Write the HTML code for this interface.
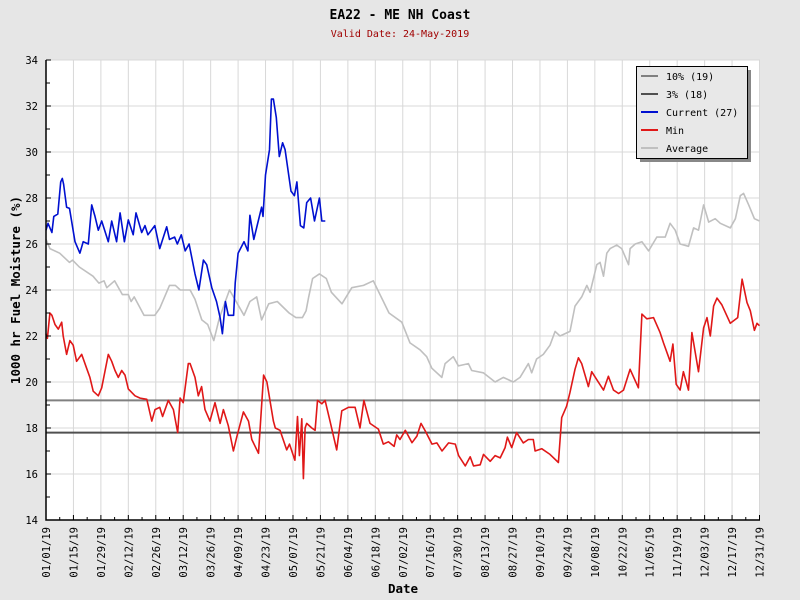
<!DOCTYPE html>
<html><head><meta charset="utf-8"><style>
body{margin:0;background:#e6e6e6;}
svg{display:block;font-family:"DejaVu Sans Mono","Liberation Mono",monospace;}
</style></head><body>
<svg id="chart" width="800" height="600" viewBox="0 0 800 600">
<rect x="0" y="0" width="800" height="600" fill="#e6e6e6"/>
<text x="400" y="19" text-anchor="middle" font-size="13" font-weight="bold" fill="#000">EA22 - ME NH Coast</text>
<text x="400" y="37" text-anchor="middle" font-size="10" fill="#a00000">Valid Date: 24-May-2019</text>
<rect x="46" y="60" width="714" height="460" fill="#fff"/>
<g id="grid"></g>
<g id="series"></g>
<g id="axes"></g>
<text transform="translate(20,290) rotate(-90)" text-anchor="middle" font-size="12.5" font-weight="bold">1000 hr Fuel Moisture (%)</text>
<text x="403" y="593" text-anchor="middle" font-size="12.5" font-weight="bold">Date</text>
<g>
<rect x="640" y="70" width="111" height="92" fill="#888"/>
<rect x="636.5" y="66.5" width="111" height="92" fill="#e8e8e8" stroke="#000"/>
<g id="legend-items"></g>
</g>
</svg>
<script>
const yTicks=[14,16,18,20,22,24,26,28,30,32,34];
const xTickLabels=["01/01/19","01/15/19","01/29/19","02/12/19","02/26/19","03/12/19","03/26/19","04/09/19","04/23/19","05/07/19","05/21/19","06/04/19","06/18/19","07/02/19","07/16/19","07/30/19","08/13/19","08/27/19","09/10/19","09/24/19","10/08/19","10/22/19","11/05/19","11/19/19","12/03/19","12/17/19","12/31/19"];
const pct10=19.2;
const pct3=17.8;
const currentDays=[0,1,3,4,6,7.5,8.3,9,10.5,12,14.8,17.3,19,21.6,23.3,25,26.7,28.4,31.8,33.5,36,37.8,40,42,44.5,45.9,48.8,50.5,52,55.5,58,61.6,63,65.6,67,69,71,73,76,78,80.3,82,84.6,87,88.8,90,91.5,93,95.7,96.5,98,101,103,104,106,110,110.7,112,114,115,116,117.5,119,120.7,122,125,126.7,128,129.8,131.5,133,135,137,139.5,140.7,142.5];
const currentVals=[26.6,26.9,26.5,27.2,27.3,28.7,28.85,28.6,27.6,27.55,26.1,25.6,26.1,26.0,27.7,27.2,26.6,27.0,26.1,27.0,26.1,27.35,26.1,27.05,26.4,27.35,26.5,26.8,26.4,26.8,25.8,26.75,26.2,26.3,26.0,26.4,25.7,26.0,24.7,24.0,25.3,25.1,24.1,23.5,22.8,22.1,23.5,22.9,22.9,24.3,25.6,26.1,25.7,27.25,26.2,27.6,27.2,29.0,30.1,32.3,32.3,31.5,29.8,30.4,30.1,28.3,28.1,28.7,26.8,26.7,27.8,28.0,27.0,28.0,27.0,27.0];
const avgDays=[0,2,7,9.5,12,13.5,17,24,27,29.6,31,35,39,42,43.4,45,50,55.5,58,63,66,68.5,73.5,76,79.5,82.5,85.6,88.5,93.6,97,101,104,107.5,110,113.6,118,124,127.5,130.8,132.7,134,136,139.5,143,145.6,151,156,162,167,175,181.5,185.7,190.8,194.2,196.8,201.9,203.6,207.8,210.4,215.5,217.2,223.1,229.1,233.3,238.4,241.8,246.1,247.8,250.3,253.7,257.1,259.7,262.2,267.3,269.9,273.3,275.9,277.6,281,282.7,284.4,286.1,287.8,291.2,293.7,297.2,298,300.6,304,307.4,311.6,315.9,318.4,321,323.5,327.8,330.4,332.9,335.5,338.1,341.4,344,349.1,351.7,354.2,355.9,358.5,361.4,364];
const avgVals=[26.2,25.8,25.6,25.4,25.2,25.3,25.0,24.6,24.3,24.4,24.1,24.4,23.8,23.8,23.5,23.7,22.9,22.9,23.2,24.2,24.2,24.0,24.0,23.6,22.7,22.5,21.8,22.8,24.0,23.5,22.9,23.5,23.7,22.7,23.4,23.5,23.0,22.8,22.8,23.1,23.7,24.5,24.7,24.5,23.9,23.4,24.1,24.2,24.4,23.0,22.6,21.7,21.4,21.1,20.6,20.2,20.8,21.1,20.7,20.8,20.5,20.4,20.0,20.2,20.0,20.2,20.8,20.4,21.0,21.2,21.6,22.2,22.0,22.2,23.3,23.7,24.2,23.9,25.1,25.2,24.6,25.6,25.8,25.95,25.8,25.1,25.8,26.0,26.1,25.7,26.3,26.3,26.9,26.6,26.0,25.9,26.7,26.6,27.7,26.95,27.1,26.9,26.7,27.1,28.1,28.2,27.7,27.1,27.0];
const minDays=[0,0.7,2,3,4.6,6.3,8,8.8,10.5,12.2,13.9,15.6,18.2,20.7,22.4,24.1,26.7,28.4,31.8,33.5,35.2,36.9,38.6,40.3,42,45.4,48,51.4,54,55.6,58,59.5,62.4,65,67.2,68.4,70,72.6,73.5,76,77.7,79.4,81.1,83.6,86.2,88.8,90.5,93,95.6,97.3,100.7,103.3,105,108.4,111,112.7,116,117,119.4,122.8,124.2,127,128.3,129.3,130.5,131.3,132.2,133,135.6,137.3,138.5,140.7,142.4,144.9,148.3,150.9,154.3,157.7,160.2,162.2,165.3,169.6,172.1,174.7,177.6,178.9,180.6,183.3,186.7,189.2,191.3,193.5,196.9,199.4,202,205.4,208.8,210.5,213.9,216.4,218.1,221.5,223.2,226.6,229.1,231.7,234.2,235.4,237.6,240.1,243.5,246.1,248.6,249.5,252.9,257.1,261.4,263.1,265.6,267.3,269.9,271.6,273.3,276.7,278.4,281,284.4,286.9,289.5,292.1,294.6,298,302.2,304,306.5,309.9,313.3,315,318.4,319.8,321.5,323.5,325.2,327.8,329.5,332.9,335.5,337.2,338.9,340.6,342.3,344.8,349.1,352.9,355.1,357.6,359.3,361.4,362.7,364];
const minVals=[22.1,21.9,23.0,22.9,22.5,22.3,22.6,22.0,21.2,21.8,21.6,20.9,21.2,20.6,20.2,19.6,19.4,19.75,21.2,20.9,20.5,20.2,20.5,20.3,19.7,19.4,19.3,19.25,18.3,18.8,18.9,18.5,19.2,18.8,17.8,19.3,19.1,20.8,20.8,20.2,19.4,19.8,18.8,18.3,19.1,18.2,18.8,18.1,17.0,17.6,18.7,18.3,17.5,16.9,20.3,20.0,18.3,18.0,17.9,17.05,17.3,16.6,18.5,16.8,18.4,15.8,18.0,18.2,18.0,17.9,19.2,19.05,19.2,18.3,17.05,18.75,18.9,18.9,18.0,19.2,18.2,17.95,17.3,17.4,17.2,17.7,17.5,17.9,17.36,17.65,18.2,17.87,17.3,17.35,17.0,17.35,17.3,16.8,16.35,16.75,16.35,16.4,16.85,16.55,16.8,16.7,17.15,17.6,17.15,17.8,17.35,17.5,17.5,17.0,17.1,16.85,16.5,18.45,18.95,19.55,20.55,21.05,20.8,19.8,20.45,20.1,19.65,20.25,19.65,19.5,19.65,20.55,19.75,22.95,22.75,22.8,22.15,21.7,20.9,21.65,19.9,19.65,20.45,19.65,22.15,20.45,22.35,22.8,22.0,23.3,23.65,23.35,22.55,22.8,24.47,23.45,23.1,22.25,22.55,22.45];

const X0=46,X1=759.5,Y0=520,Y1=60;
function xs(d){return X0+(X1-X0)*d/364;}
function ys(v){return Y0-(v-14)*(Y0-Y1)/20;}
const NS="http://www.w3.org/2000/svg";
function mk(tag,attrs,parent){const e=document.createElementNS(NS,tag);for(const k in attrs)e.setAttribute(k,attrs[k]);parent.appendChild(e);return e;}
const grid=document.getElementById('grid'),axes=document.getElementById('axes'),series=document.getElementById('series');
yTicks.forEach(function(v){
  if(v>14){const g=mk('line',{x1:X0,x2:760,y1:ys(v),y2:ys(v),stroke:'#d8d8d8','stroke-width':1},grid);
  
  }
  const t=mk('line',{x1:X0,x2:X0+5,y1:ys(v),y2:ys(v),stroke:'#000'},axes);
  
  
  if(v<34){const m=mk('line',{x1:X0,x2:X0+4,y1:ys(v+1),y2:ys(v+1),stroke:'#000'},axes);
  
  }
  const l=mk('text',{x:X0-8,y:ys(v)+4,'text-anchor':'end','font-size':10.5},axes);
  l.textContent=v;
  
  
});
xTickLabels.forEach(function(s,i){
  const d=i*14,x=xs(d);
  if(i>0){const g=mk('line',{x1:x,x2:x,y1:Y1,y2:Y0,stroke:'#d8d8d8'},grid);
  
  }
  const t=mk('line',{x1:x,x2:x,y1:Y0,y2:Y0-5,stroke:'#000'},axes);
  
  
  if(i<26){const m=mk('line',{x1:xs(d+7),x2:xs(d+7),y1:Y0,y2:Y0-3,stroke:'#000'},axes);
  
  }
  const l=mk('text',{transform:'translate('+(x+4)+','+(Y0+7)+') rotate(-90)','text-anchor':'end','font-size':10.5},axes);
  l.textContent=s;
  
  
});
const ax=mk('path',{d:'M'+X0+' '+Y1+'V'+Y0+'H760',fill:'none',stroke:'#000','stroke-width':1.5},axes);


const strip=mk('rect',{x:760,y:Y1,width:6,height:Y0-Y1,fill:'#e6e6e6'},axes);


function line(days,vals,color,w,name){
  let d='';days.forEach(function(dd,i){d+=(i?'L':'M')+xs(dd).toFixed(1)+' '+ys(vals[i]).toFixed(1);});
  const p=mk('path',{d:d,fill:'none',stroke:color,'stroke-width':w,'stroke-linejoin':'round'},series);
  
  
}
line(avgDays,avgVals,'#c0c0c0',1.6,'average-line');
const h10=mk('line',{x1:X0,x2:760,y1:ys(pct10),y2:ys(pct10),stroke:'#808080','stroke-width':2},series);


const h3=mk('line',{x1:X0,x2:760,y1:ys(pct3),y2:ys(pct3),stroke:'#505050','stroke-width':2},series);


line(minDays,minVals,'#e01818',1.6,'min-line');
line(currentDays,currentVals,'#0010d0',1.6,'current-line');
const legendItems=[["10% (19)","#808080"],["3% (18)","#505050"],["Current (27)","#0010d0"],["Min","#e01818"],["Average","#c0c0c0"]];
const lg=document.getElementById('legend-items');
legendItems.forEach(function(it,i){
  const y=76+i*18;
  const l=mk('line',{x1:641,x2:658,y1:y,y2:y,stroke:it[1],'stroke-width':2},lg);
  
  
  const t=mk('text',{x:666,y:y+4,'font-size':10},lg);
  t.textContent=it[0];
  
  
});
</script>
</body></html>
